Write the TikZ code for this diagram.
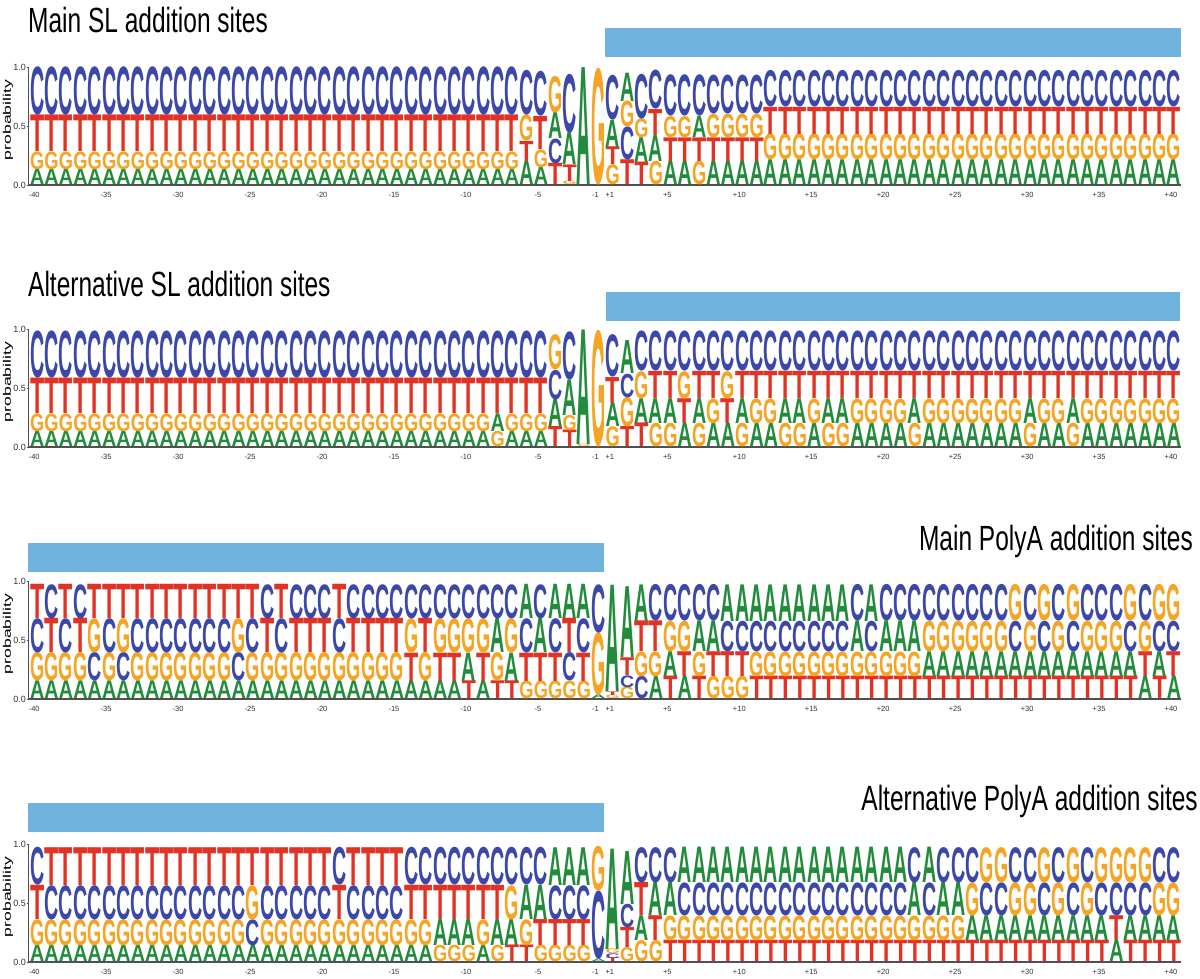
\documentclass[tikz,border=0pt]{standalone}
\usepackage{fontspec}
\setmainfont{Liberation Sans}
\newfontfamily\logofont{Liberation Sans}
\usepackage{graphicx}
\definecolor{cA}{RGB}{35,140,60}
\definecolor{cC}{RGB}{60,72,168}
\definecolor{cG}{RGB}{245,165,35}
\definecolor{cT}{RGB}{225,50,35}
\definecolor{barblue}{RGB}{112,179,222}
\definecolor{axisgray}{RGB}{80,80,80}
\def\baseA{794}\def\baseB{532}\def\baseC{280}\def\baseD{17}
\def\splitfour#1#2#3#4\relax{\def\la{#1}\def\lb{#2}\def\lc{#3}\def\ld{#4}}
\def\splithts#1/#2/#3/#4\relax{\def\ha{#1}\def\hb{#2}\def\hc{#3}\def\hd{#4}}
\newcommand\drawone[2]{%
  \pgfmathsetmacro\hh{#2*118}%
  \ifdim\hh pt>0.3pt
    \node[inner sep=0pt,outer sep=0pt,anchor=south] at (\xc,\cury) {\resizebox*{14.2pt}{\hh pt}{\color{c#1}\logofont\bfseries #1}};
  \fi
  \pgfmathsetmacro\cury{\cury+\hh}%
}
\newcommand\cols[5]{%
  \foreach \i in {#2,...,#3}{%
    \pgfmathsetmacro\xc{30+14.39*(\i+0.5)}%
    \splitfour#4\relax
    \expandafter\splithts#5\relax
    \edef\cury{\csname base#1\endcsname}%
    \drawone\ld\hd
    \drawone\lc\hc
    \drawone\lb\hb
    \drawone\la\ha
  }%
}
\newcommand\axes[1]{%
  \edef\b{\csname base#1\endcsname}%
  \pgfmathsetmacro\bt{\b+118}%
  \pgfmathsetmacro\bm{\b+59}%
  \draw[axisgray,line width=0.6pt] (28.5,\b) -- (28.5,\bt);
  \foreach \yy/\tt in {\b/0.0,\bm/0.5,\bt/1.0}{%
    \draw[axisgray,line width=0.6pt] (26.5,\yy) -- (28.5,\yy);
    \node[ytl] at (26,\yy) {\tt};
  }
  \pgfmathsetmacro\pm{\b+65}%
  \node[rotate=90,inner sep=0pt] at (8,\pm) {\scalebox{1.6}[1]{\fontsize{11}{11}\selectfont probability}};
  \draw[axisgray,line width=1.3pt] (28,\b) -- (1181,\b);
  \pgfmathsetmacro\lb{\b-10}%
  \foreach \k in {40,35,...,5,1}{%
    \pgfmathsetmacro\xx{30+14.39*(40-\k+0.5)-3}%
    \node[xtl] at (\xx,\lb) {-\k};
  }
  \foreach \k in {1,5,10,...,40}{%
    \pgfmathsetmacro\xx{30+14.39*(39+\k+0.5)-3}%
    \node[xtl] at (\xx,\lb) {+\k};
  }
}
\begin{document}
\begin{tikzpicture}[x=1pt,y=1pt,
  ytl/.style={anchor=east,inner sep=0pt,font=\fontsize{9}{9}\selectfont,text=black!80},
  xtl/.style={inner sep=0pt,font=\fontsize{7.5}{7.5}\selectfont,text=black!80},
  ttl/.style={inner sep=0pt},
  bar/.style={fill=barblue,draw=none}]
\useasboundingbox (0,0) rectangle (1200,979);
\fill[white] (0,0) rectangle (1200,979);
% titles
\node[ttl,anchor=base west] (t1) at (28,946) {\scalebox{0.70}[1]{\fontsize{35}{35}\selectfont Main SL addition sites}};
\node[ttl,anchor=base west] (t2) at (28,682) {\scalebox{0.70}[1]{\fontsize{35}{35}\selectfont Alternative SL addition sites}};
\node[ttl,anchor=base east] (t3) at (1193,428) {\scalebox{0.70}[1]{\fontsize{35}{35}\selectfont Main PolyA addition sites}};
\node[ttl,anchor=base east] (t4) at (1198,168) {\scalebox{0.70}[1]{\fontsize{35}{35}\selectfont Alternative PolyA addition sites}};
% bars
\fill[bar] (605,922) rectangle (1181,951);
\fill[bar] (606,658) rectangle (1180,687);
\fill[bar] (28,407) rectangle (604,436);
\fill[bar] (28,147) rectangle (604,176);
% axes
\axes{A}\axes{B}\axes{C}\axes{D}
% ---------- panel A: Main SL
\def\hL{0.41/0.31/0.15/0.13}\def\hR{0.31/0.23/0.22/0.21}
\cols{A}{0}{33}{CTGA}{\hL}
\cols{A}{34}{34}{CGTA}{0.38/0.22/0.17/0.2}
\cols{A}{35}{35}{CTGA}{0.38/0.28/0.15/0.15}
\cols{A}{36}{36}{GACT}{0.31/0.22/0.21/0.18}
\cols{A}{37}{37}{CATG}{0.5/0.27/0.14/0.03}
\cols{A}{38}{38}{ACGT}{0.99/0/0/0}
\cols{A}{39}{39}{GACT}{0.99/0/0/0}
\cols{A}{40}{40}{CATG}{0.38/0.23/0.15/0.17}
\cols{A}{41}{41}{AGCT}{0.24/0.22/0.28/0.21}
\cols{A}{42}{42}{CGAT}{0.38/0.16/0.21/0.19}
\cols{A}{43}{43}{CTAG}{0.33/0.22/0.22/0.2}
\cols{A}{44}{45}{CGTA}{0.35/0.18/0.2/0.2}
\cols{A}{46}{46}{CATG}{0.35/0.18/0.2/0.2}
\cols{A}{47}{50}{CGTA}{0.33/0.2/0.2/0.2}
\cols{A}{51}{79}{CTGA}{\hR}
% ---------- panel B: Alternative SL
\def\hL{0.40/0.30/0.15/0.13}\def\hR{0.34/0.23/0.21/0.2}
\cols{B}{0}{31}{CTGA}{\hL}
\cols{B}{32}{32}{CTAG}{\hL}
\cols{B}{33}{35}{CTGA}{\hL}
\cols{B}{36}{36}{GCAT}{0.3/0.25/0.23/0.17}
\cols{B}{37}{37}{CAGT}{0.41/0.3/0.13/0.14}
\cols{B}{38}{38}{AGCT}{0.97/0.02/0/0}
\cols{B}{39}{39}{GACT}{0.99/0/0/0}
\cols{B}{40}{40}{CTAG}{0.36/0.22/0.2/0.17}
\cols{B}{41}{41}{ACGT}{0.28/0.2/0.25/0.17}
\cols{B}{42}{42}{CGAT}{\hR}
\cols{B}{43}{44}{CTAG}{\hR}
\cols{B}{45}{45}{CGTA}{\hR}
\cols{B}{46}{46}{CTAG}{\hR}
\cols{B}{47}{47}{CTGA}{\hR}
\cols{B}{48}{48}{CGTA}{\hR}
\cols{B}{49}{49}{CTAG}{\hR}
\cols{B}{50}{51}{CTGA}{\hR}
\cols{B}{52}{53}{CTAG}{\hR}
\cols{B}{54}{54}{CTGA}{\hR}
\cols{B}{55}{56}{CTAG}{\hR}
\cols{B}{57}{60}{CTGA}{\hR}
\cols{B}{61}{61}{CTAG}{\hR}
\cols{B}{62}{68}{CTGA}{\hR}
\cols{B}{69}{69}{CTAG}{\hR}
\cols{B}{70}{71}{CTGA}{\hR}
\cols{B}{72}{72}{CTAG}{\hR}
\cols{B}{73}{79}{CTGA}{\hR}
% ---------- panel C: Main PolyA
\def\hL{0.29/0.29/0.24/0.15}\def\hR{0.31/0.26/0.21/0.19}
\cols{C}{0}{0}{TCGA}{\hL}
\cols{C}{1}{1}{CTGA}{\hL}
\cols{C}{2}{2}{TCGA}{\hL}
\cols{C}{3}{3}{CTGA}{\hL}
\cols{C}{4}{4}{TGCA}{\hL}
\cols{C}{5}{5}{TCGA}{\hL}
\cols{C}{6}{6}{TGCA}{\hL}
\cols{C}{7}{13}{TCGA}{\hL}
\cols{C}{14}{14}{TGCA}{\hL}
\cols{C}{15}{15}{TCGA}{\hL}
\cols{C}{16}{16}{CTGA}{\hL}
\cols{C}{17}{17}{TCGA}{\hL}
\cols{C}{18}{20}{CTGA}{\hL}
\cols{C}{21}{21}{TCGA}{\hL}
\cols{C}{22}{25}{CTGA}{\hL}
\cols{C}{26}{26}{CGTA}{\hL}
\cols{C}{27}{27}{CTGA}{\hL}
\cols{C}{28}{29}{CGTA}{\hL}
\cols{C}{30}{30}{CGAT}{\hL}
\cols{C}{31}{31}{CGTA}{\hL}
\cols{C}{32}{32}{CAGT}{\hL}
\cols{C}{33}{33}{CGAT}{\hL}
\cols{C}{34}{34}{ACTG}{\hL}
\cols{C}{35}{35}{CATG}{\hL}
\cols{C}{36}{36}{ACTG}{\hL}
\cols{C}{37}{37}{ATCG}{\hL}
\cols{C}{38}{38}{ACTG}{\hL}
\cols{C}{39}{39}{CGAT}{0.41/0.53/0.03/0}
\cols{C}{40}{40}{ACTG}{0.9/0/0.03/0.03}
\cols{C}{41}{41}{ATCG}{0.6/0.15/0.1/0.1}
\cols{C}{42}{42}{ATGC}{\hR}
\cols{C}{43}{43}{CTGA}{\hR}
\cols{C}{44}{44}{CGAT}{\hR}
\cols{C}{45}{45}{CGTA}{\hR}
\cols{C}{46}{46}{CAGT}{\hR}
\cols{C}{47}{47}{CATG}{\hR}
\cols{C}{48}{49}{ACTG}{\hR}
\cols{C}{50}{56}{ACGT}{\hR}
\cols{C}{57}{57}{CAGT}{\hR}
\cols{C}{58}{58}{ACGT}{\hR}
\cols{C}{59}{61}{CAGT}{\hR}
\cols{C}{62}{67}{CGAT}{\hR}
\cols{C}{68}{68}{GCAT}{\hR}
\cols{C}{69}{69}{CGAT}{\hR}
\cols{C}{70}{70}{GCAT}{\hR}
\cols{C}{71}{71}{CGAT}{\hR}
\cols{C}{72}{72}{GCAT}{\hR}
\cols{C}{73}{75}{CGAT}{\hR}
\cols{C}{76}{76}{GCAT}{\hR}
\cols{C}{77}{77}{CGTA}{\hR}
\cols{C}{78}{78}{GCAT}{\hR}
\cols{C}{79}{79}{GCTA}{\hR}
% ---------- panel D: Alternative PolyA
\def\hL{0.32/0.29/0.22/0.14}\def\hR{0.30/0.28/0.21/0.18}
\cols{D}{0}{0}{CTGA}{\hL}
\cols{D}{1}{14}{TCGA}{\hL}
\cols{D}{15}{15}{TGCA}{\hL}
\cols{D}{16}{20}{TCGA}{\hL}
\cols{D}{21}{21}{CTGA}{\hL}
\cols{D}{22}{25}{TCGA}{\hL}
\cols{D}{26}{27}{CTGA}{\hL}
\cols{D}{28}{30}{CTAG}{\hL}
\cols{D}{31}{31}{CTGA}{\hL}
\cols{D}{32}{32}{CTAG}{\hL}
\cols{D}{33}{33}{CGAT}{\hL}
\cols{D}{34}{34}{CAGT}{\hL}
\cols{D}{35}{35}{CATG}{\hL}
\cols{D}{36}{38}{ACTG}{\hL}
\cols{D}{39}{39}{GCAT}{0.38/0.58/0.02/0}
\cols{D}{40}{40}{AGCT}{0.85/0.04/0.04/0.03}
\cols{D}{41}{41}{ACTG}{0.45/0.2/0.17/0.12}
\cols{D}{42}{42}{CTAG}{\hR}
\cols{D}{43}{43}{CATG}{\hR}
\cols{D}{44}{44}{CAGT}{\hR}
\cols{D}{45}{60}{ACGT}{\hR}
\cols{D}{61}{61}{CAGT}{\hR}
\cols{D}{62}{62}{ACGT}{\hR}
\cols{D}{63}{64}{CAGT}{\hR}
\cols{D}{65}{65}{CGAT}{\hR}
\cols{D}{66}{67}{GCAT}{\hR}
\cols{D}{68}{69}{CGAT}{\hR}
\cols{D}{70}{70}{GCAT}{\hR}
\cols{D}{71}{71}{CGAT}{\hR}
\cols{D}{72}{72}{GCAT}{\hR}
\cols{D}{73}{73}{CGAT}{\hR}
\cols{D}{74}{74}{GCAT}{\hR}
\cols{D}{75}{75}{GCTA}{\hR}
\cols{D}{76}{77}{GCAT}{\hR}
\cols{D}{78}{79}{CGAT}{\hR}
\end{tikzpicture}
\end{document}
